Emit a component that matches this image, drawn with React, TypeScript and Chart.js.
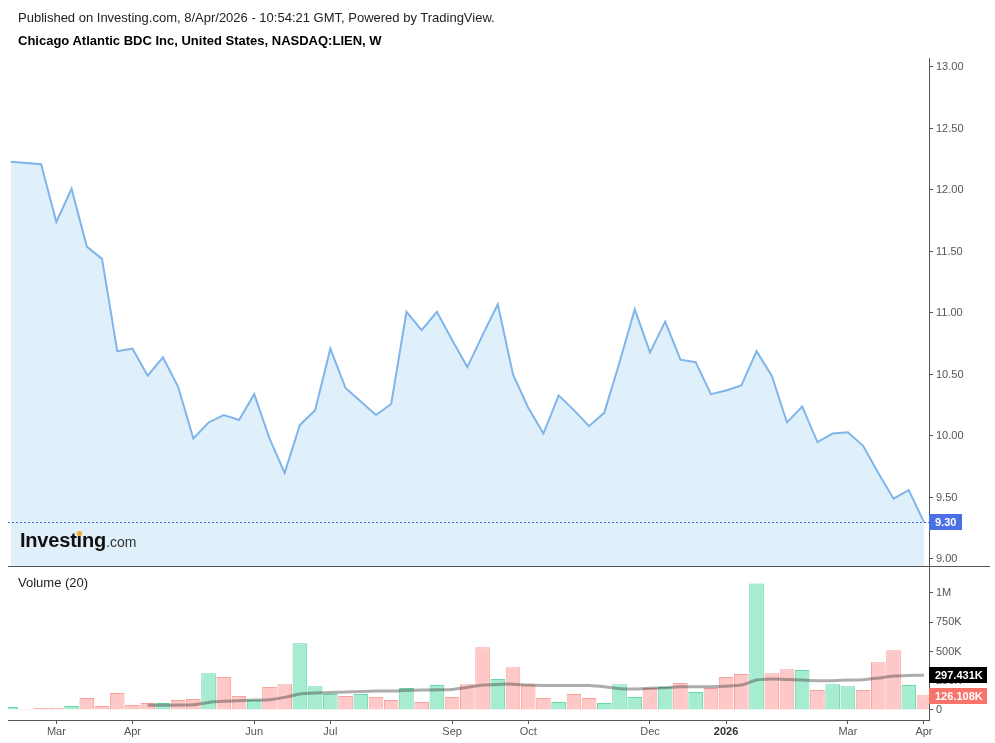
import React, { useEffect, useRef } from "react";
import { Chart, registerables } from "chart.js";

Chart.register(...registerables);

const FONT = 'Arial, "Liberation Sans", Helvetica, sans-serif';

// Weekly bars (week start dates)
const weeks = [
  "2025-02-10", "2025-02-17", "2025-02-24",
  "2025-03-03", "2025-03-10", "2025-03-17", "2025-03-24", "2025-03-31",
  "2025-04-07", "2025-04-14", "2025-04-21", "2025-04-28",
  "2025-05-05", "2025-05-12", "2025-05-19", "2025-05-26",
  "2025-06-02", "2025-06-09", "2025-06-16", "2025-06-23", "2025-06-30",
  "2025-07-07", "2025-07-14", "2025-07-21", "2025-07-28",
  "2025-08-04", "2025-08-11", "2025-08-18", "2025-08-25",
  "2025-09-01", "2025-09-08", "2025-09-15", "2025-09-22", "2025-09-29",
  "2025-10-06", "2025-10-13", "2025-10-20", "2025-10-27",
  "2025-11-03", "2025-11-10", "2025-11-17", "2025-11-24",
  "2025-12-01", "2025-12-08", "2025-12-15", "2025-12-22", "2025-12-29",
  "2026-01-05", "2026-01-12", "2026-01-19", "2026-01-26",
  "2026-02-02", "2026-02-09", "2026-02-16", "2026-02-23",
  "2026-03-02", "2026-03-09", "2026-03-16", "2026-03-23", "2026-03-30",
  "2026-04-06",
];

const closes = [
  12.23, 12.22, 12.21, 11.74, 12.01, 11.54, 11.44, 10.69, 10.71, 10.49,
  10.64, 10.40, 9.98, 10.11, 10.17, 10.13, 10.34, 9.98, 9.70, 10.09,
  10.21, 10.71, 10.39, 10.28, 10.17, 10.26, 11.01, 10.86, 11.01, 10.78,
  10.56, 10.82, 11.07, 10.50, 10.23, 10.02, 10.33, 10.21, 10.08, 10.19,
  10.60, 11.03, 10.68, 10.93, 10.62, 10.60, 10.34, 10.37, 10.41, 10.69,
  10.49, 10.11, 10.24, 9.95, 10.02, 10.03, 9.92, 9.70, 9.49, 9.56,
  9.30,
];

const volumes = [
  25000, 9000, 17000, 17000, 34000, 102000, 34000, 145000, 43000, 60000,
  60000, 85000, 94000, 315000, 281000, 119000, 85000, 196000, 221000, 571000,
  204000, 136000, 119000, 136000, 111000, 85000, 187000, 68000, 213000, 111000,
  221000, 537000, 264000, 366000, 221000, 102000, 68000, 136000, 102000, 60000,
  221000, 111000, 187000, 196000, 230000, 153000, 187000, 281000, 307000, 1082000,
  315000, 349000, 341000, 170000, 221000, 204000, 170000, 409000, 511000, 213000,
  126108,
];

// 1 = up (green) bar, 0 = down (red) bar
const upBars = [
  1, 0, 0, 0, 1, 0, 0, 0, 0, 0,
  1, 0, 0, 1, 0, 0, 1, 0, 0, 1,
  1, 1, 0, 1, 0, 0, 1, 0, 1, 0,
  0, 0, 1, 0, 0, 0, 1, 0, 0, 1,
  1, 1, 0, 1, 0, 1, 0, 0, 0, 1,
  0, 0, 1, 0, 1, 1, 0, 0, 0, 1,
  0,
];

const volumeMA = [
  null, null, null, null, null, null, null, null, null, 40000,
  40000, 43000, 45000, 65000, 74000, 80000, 85000, 88000, 108000, 136000,
  145000, 150000, 153000, 159000, 162000, 162000, 168000, 170000, 173000, 176000,
  193000, 213000, 219000, 221000, 213000, 210000, 210000, 210000, 210000, 199000,
  182000, 179000, 185000, 190000, 199000, 199000, 199000, 204000, 213000, 256000,
  264000, 261000, 256000, 250000, 250000, 256000, 258000, 273000, 290000, 295000,
  297431,
];

const monthTickIndex = [3, 8, 16, 21, 29, 34, 42, 47, 55, 60];
const monthTickText = ["Mar", "Apr", "Jun", "Jul", "Sep", "Oct", "Dec", "2026", "Mar", "Apr"];

const priceTicks = [9, 9.5, 10, 10.5, 11, 11.5, 12, 12.5, 13];
const volumeTicks = [0, 250000, 500000, 750000, 1000000];
const volumeTickText = ["0", "250K", "500K", "750K", "1M"];

const lastPrice = 9.3;
const lastPriceText = "9.30";
const lastMAText = "297.431K";
const lastVolumeText = "126.108K";

const X_MIN = -0.177;
const X_MAX = 60.33;

const AXIS_COLOR = "#555555";

function drawTag(ctx: CanvasRenderingContext2D, x: number, yc: number, w: number, bg: string, text: string) {
  ctx.save();
  ctx.fillStyle = bg;
  ctx.fillRect(x, Math.round(yc - 8), w, 16);
  ctx.fillStyle = "#ffffff";
  ctx.font = `bold 11px ${FONT}`;
  ctx.textAlign = "left";
  ctx.textBaseline = "middle";
  ctx.fillText(text, x + 6, Math.round(yc - 8) + 8.5);
  ctx.restore();
}

function fitY(s: any) {
  s.width = 66;
  s.paddingTop = 0;
  s.paddingBottom = 0;
}

export default function App() {
  const priceRef = useRef<HTMLCanvasElement | null>(null);
  const volRef = useRef<HTMLCanvasElement | null>(null);

  useEffect(() => {
    const pricePlugin = {
      id: "pricePlugin",
      afterDatasetsDraw(chart: any) {
        const { ctx, chartArea, scales } = chart;
        const y = Math.round(scales.y.getPixelForValue(lastPrice)) + 0.5;
        ctx.save();
        ctx.strokeStyle = "#3d6ae6";
        ctx.lineWidth = 1;
        ctx.setLineDash([2, 2]);
        ctx.beginPath();
        ctx.moveTo(chartArea.left, y);
        ctx.lineTo(chartArea.right, y);
        ctx.stroke();
        ctx.restore();
      },
      afterDraw(chart: any) {
        const { ctx, chartArea, scales } = chart;
        ctx.save();
        ctx.strokeStyle = AXIS_COLOR;
        ctx.lineWidth = 1;
        ctx.beginPath();
        ctx.moveTo(chartArea.left, chartArea.bottom + 0.5);
        ctx.lineTo(990, chartArea.bottom + 0.5);
        ctx.stroke();
        ctx.restore();
        const y = scales.y.getPixelForValue(lastPrice);
        drawTag(ctx, chartArea.right, y, 33, "#4a70e6", lastPriceText);
      },
    };

    const volPlugin = {
      id: "volPlugin",
      afterDraw(chart: any) {
        const { ctx, chartArea, scales } = chart;
        const yMA = scales.y.getPixelForValue(volumeMA[volumeMA.length - 1] as number);
        const yV = scales.y.getPixelForValue(volumes[volumes.length - 1]);
        drawTag(ctx, chartArea.right, yMA, 58, "#000000", lastMAText);
        drawTag(ctx, chartArea.right, yV + 1, 58, "#f8746a", lastVolumeText);
      },
    };

    const priceChart = new Chart(priceRef.current as HTMLCanvasElement, {
      type: "line",
      data: {
        labels: weeks,
        datasets: [
          {
            data: closes.map((c, i) => ({ x: i, y: c })),
            borderColor: "#80b5ea",
            backgroundColor: "#e0f0fa",
            fill: "start",
            borderWidth: 2,
            pointRadius: 0,
            tension: 0,
          },
        ],
      },
      options: {
        animation: false,
        responsive: false,
        maintainAspectRatio: false,
        layout: { padding: { left: 8, top: 58, right: 0, bottom: 1 } },
        plugins: { legend: { display: false }, tooltip: { enabled: false } },
        scales: {
          x: { type: "linear", min: X_MIN, max: X_MAX, display: false, offset: false },
          y: {
            position: "right",
            min: 8.943,
            max: 13.073,
            afterBuildTicks: (s: any) => {
              s.ticks = priceTicks.map((v) => ({ value: v }));
            },
            afterFit: fitY,
            ticks: {
              callback: (v: any) => Number(v).toFixed(2),
              color: AXIS_COLOR,
              font: { size: 11, family: FONT },
              padding: 3,
            },
            grid: { drawOnChartArea: false, tickLength: 4, color: AXIS_COLOR },
            border: { display: true, color: AXIS_COLOR },
          },
        },
      } as any,
      plugins: [pricePlugin],
    });

    const volChart = new Chart(volRef.current as HTMLCanvasElement, {
      type: "bar",
      data: {
        labels: weeks,
        datasets: [
          {
            type: "line",
            data: volumeMA.map((v, i) => ({ x: i, y: v })),
            borderColor: "rgba(60,60,60,0.42)",
            borderWidth: 3,
            pointRadius: 0,
            fill: false,
            tension: 0.2,
            order: 0,
          } as any,
          {
            type: "bar",
            data: volumes.map((v, i) => ({ x: i, y: v })),
            backgroundColor: upBars.map((u) => (u ? "#a6ecd1" : "#fdc8c7")),
            borderColor: upBars.map((u) => (u ? "#66d9a6" : "#f7a29c")),
            borderWidth: 1,
            borderSkipped: "bottom",
            barPercentage: 1,
            categoryPercentage: 0.96,
            order: 1,
          } as any,
        ],
      },
      options: {
        animation: false,
        responsive: false,
        maintainAspectRatio: false,
        layout: { padding: { left: 8, top: 0, right: 0, bottom: 0 } },
        plugins: { legend: { display: false }, tooltip: { enabled: false } },
        scales: {
          x: {
            type: "linear",
            min: X_MIN,
            max: X_MAX,
            offset: false,
            position: "bottom",
            afterBuildTicks: (s: any) => {
              s.ticks = monthTickIndex.map((v) => ({ value: v }));
            },
            afterFit: (s: any) => {
              s.height = 23;
              s.paddingLeft = 0;
              s.paddingRight = 0;
            },
            ticks: {
              autoSkip: false,
              maxRotation: 0,
              padding: 1,
              callback: (v: any) => {
                const k = monthTickIndex.indexOf(Number(v));
                return k >= 0 ? monthTickText[k] : "";
              },
              color: (c: any) => (c.tick && c.tick.label === "2026" ? "#333333" : AXIS_COLOR),
              font: (c: any) => ({
                size: 11,
                family: FONT,
                weight: c.tick && c.tick.label === "2026" ? "bold" : "normal",
              }),
            },
            grid: { drawOnChartArea: false, tickLength: 4, color: AXIS_COLOR, offset: false },
            border: { display: true, color: AXIS_COLOR },
          },
          y: {
            position: "right",
            min: -85470,
            max: 1222200,
            afterBuildTicks: (s: any) => {
              s.ticks = volumeTicks.map((v) => ({ value: v }));
            },
            afterFit: fitY,
            ticks: {
              callback: (v: any) => {
                const k = volumeTicks.indexOf(Number(v));
                return k >= 0 ? volumeTickText[k] : "";
              },
              color: AXIS_COLOR,
              font: { size: 11, family: FONT },
              padding: 3,
            },
            grid: { drawOnChartArea: false, tickLength: 4, color: AXIS_COLOR },
            border: { display: true, color: AXIS_COLOR },
          },
        },
      } as any,
      plugins: [volPlugin],
    });

    return () => {
      priceChart.destroy();
      volChart.destroy();
    };
  }, []);

  return (
    <div
      style={{
        position: "absolute",
        left: 0,
        top: 0,
        width: 995,
        height: 743,
        background: "#ffffff",
        fontFamily: FONT,
        overflow: "hidden",
      }}
    >
      <canvas
        ref={priceRef}
        width={995}
        height={567}
        style={{ position: "absolute", left: 0, top: 0, width: 995, height: 567, display: "block" }}
      />
      <canvas
        ref={volRef}
        width={995}
        height={176}
        style={{ position: "absolute", left: 0, top: 567, width: 995, height: 176, display: "block" }}
      />
      <div
        style={{
          position: "absolute",
          left: 18,
          top: 10,
          fontSize: 13,
          lineHeight: "15px",
          color: "#222222",
          whiteSpace: "nowrap",
        }}
      >
        Published on Investing.com, 8/Apr/2026 - 10:54:21 GMT, Powered by TradingView.
      </div>
      <div
        style={{
          position: "absolute",
          left: 18,
          top: 33,
          fontSize: 13,
          lineHeight: "15px",
          fontWeight: "bold",
          color: "#000000",
          whiteSpace: "nowrap",
        }}
      >
        Chicago Atlantic BDC Inc, United States, NASDAQ:LIEN, W
      </div>
      <div
        style={{
          position: "absolute",
          left: 20,
          top: 530,
          lineHeight: "20px",
          whiteSpace: "nowrap",
        }}
      >
        <span style={{ fontSize: 20, fontWeight: "bold", color: "#111111", letterSpacing: -0.2 }}>
          Invest
          <span style={{ position: "relative" }}>
            i
            <span
              style={{
                position: "absolute",
                left: "50%",
                top: 2,
                width: 5,
                height: 5,
                marginLeft: -2.5,
                borderRadius: 3,
                background: "#f5a623",
              }}
            />
          </span>
          ng
        </span>
        <span style={{ fontSize: 14, color: "#333333" }}>.com</span>
      </div>
      <div
        style={{
          position: "absolute",
          left: 18,
          top: 575,
          fontSize: 13,
          lineHeight: "15px",
          color: "#222222",
          whiteSpace: "nowrap",
        }}
      >
        Volume (20)
      </div>
    </div>
  );
}
